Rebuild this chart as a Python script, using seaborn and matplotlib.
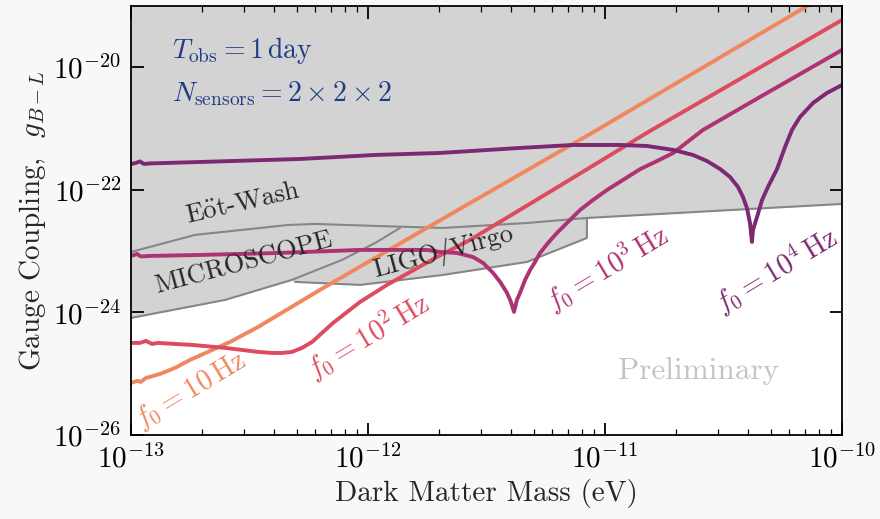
import numpy as np
import pandas as pd
import matplotlib
matplotlib.use("Agg")
import matplotlib.pyplot as plt
import seaborn as sns

# ---------------- data ----------------
# f0 = 10 Hz
mass_10 = [1.00e-13, 1.06e-13, 1.10e-13, 1.157e-13, 1.20e-13, 1.326e-13, 1.534e-13,
           1.774e-13, 2.113e-13, 2.617e-13, 3.44e-13, 6.27e-13, 1.656e-12,
           9.25e-12, 8.0e-11]
g_10 = [7.08e-26, 7.63e-26, 7.35e-26, 8.54e-26, 8.87e-26, 9.92e-26, 1.245e-25,
        1.68e-25, 2.27e-25, 3.30e-25, 5.80e-25, 2.33e-24, 2.06e-23,
        9.48e-22, 1.3e-19]

# f0 = 10^2 Hz
mass_100 = [1.00e-13, 1.09e-13, 1.157e-13, 1.226e-13, 1.30e-13, 1.534e-13, 1.81e-13,
            2.49e-13, 3.44e-13, 3.94e-13, 4.34e-13, 4.78e-13, 5.27e-13, 5.81e-13,
            6.40e-13, 7.12e-13, 9.25e-13, 1.203e-12, 1.955e-12, 2.69e-12,
            6.03e-12, 1.548e-11, 1.00e-10]
g_100 = [3.18e-25, 3.18e-25, 3.43e-25, 3.06e-25, 3.18e-25, 3.06e-25, 2.95e-25,
         2.64e-25, 2.27e-25, 2.18e-25, 2.18e-25, 2.27e-25, 2.64e-25, 3.30e-25,
         4.63e-25, 6.74e-25, 1.48e-24, 2.81e-24, 8.04e-24, 1.52e-23,
         9.96e-23, 9.14e-22, 5.91e-20]

# f0 = 10^3 Hz
mass_1k = [1.00e-13, 1.06e-13, 1.10e-13, 1.20e-13, 1.955e-13, 4.25e-13, 9.25e-13,
           1.774e-12, 2.01e-12, 2.37e-12, 2.77e-12, 3.06e-12, 3.37e-12, 3.61e-12,
           3.86e-12, 4.01e-12, 4.13e-12, 4.25e-12, 4.38e-12, 4.60e-12, 4.83e-12,
           5.07e-12, 5.32e-12, 5.75e-12, 6.27e-12, 6.98e-12, 7.85e-12, 8.90e-12,
           1.02e-11, 1.19e-11, 1.41e-11, 1.66e-11, 1.94e-11, 2.59e-11, 4.51e-11,
           1.00e-10]
g_1k = [8.35e-24, 9.0e-24, 8.2e-24, 8.35e-24, 8.67e-24, 9.35e-24, 1.047e-23,
        1.047e-23, 9.70e-24, 9.35e-24, 8.04e-24, 6.42e-24, 4.41e-24, 3.145e-24,
        2.08e-24, 1.483e-24, 1.02e-24, 1.60e-24, 2.08e-24, 3.39e-24, 4.93e-24,
        6.67e-24, 9.35e-24, 1.36e-23, 1.98e-23, 2.995e-23, 4.70e-23, 6.84e-23,
        9.96e-23, 1.45e-22, 2.19e-22, 2.96e-22, 4.00e-22, 9.49e-22, 3.28e-21,
        1.915e-20]

# f0 = 10^4 Hz
mass_10k = [1.00e-13, 1.05e-13, 1.09e-13, 1.135e-13, 1.20e-13, 1.955e-13, 5.17e-13,
            1.07e-12, 2.01e-12, 4.38e-12, 7.33e-12, 1.157e-11, 1.504e-11, 1.94e-11,
            2.35e-11, 2.69e-11, 3.06e-11, 3.37e-11, 3.64e-11, 3.82e-11, 3.97e-11,
            4.09e-11, 4.17e-11, 4.21e-11, 4.38e-11, 4.60e-11, 4.87e-11, 5.32e-11,
            5.75e-11, 6.15e-11, 6.65e-11, 7.55e-11, 8.64e-11, 1.00e-10]
g_10k = [2.645e-22, 2.75e-22, 2.91e-22, 2.645e-22, 2.70e-22, 2.85e-22, 3.19e-22,
         3.71e-22, 4.00e-22, 4.83e-22, 5.40e-22, 5.40e-22, 5.20e-22, 4.48e-22,
         3.71e-22, 2.96e-22, 2.19e-22, 1.62e-22, 1.115e-22, 7.66e-23, 5.07e-23,
         2.88e-23, 1.413e-23, 2.22e-23, 3.61e-23, 6.84e-23, 1.115e-22, 2.19e-22,
         5.01e-22, 9.49e-22, 1.546e-21, 2.62e-21, 3.81e-21, 5.14e-21]

# excluded regions (lower edges)
excl_mass = [1.00e-13, 2.495e-13, 4.77e-13, 4.92e-13, 9.25e-13, 2.07e-12,
             4.69e-12, 8.39e-12, 8.39e-12, 1.00e-10]
excl_g = [8.13e-25, 1.60e-24, 3.39e-24, 3.15e-24, 2.81e-24, 4.09e-24,
          6.67e-24, 1.64e-23, 3.48e-23, 5.89e-23]

eotwash_mass = [1.00e-13, 1.862e-13, 4.59e-13, 5.97e-13, 1.072e-12, 2.07e-12,
                4.69e-12, 8.39e-12, 1.00e-10]
eotwash_g = [9.7e-24, 1.84e-23, 2.67e-23, 2.78e-23, 2.58e-23, 2.39e-23,
             2.88e-23, 3.48e-23, 5.89e-23]

microscope_mass = [1.00e-13, 2.495e-13, 4.77e-13, 7.76e-13, 1.072e-12, 1.365e-12]
microscope_g = [8.13e-25, 1.60e-24, 3.39e-24, 7.18e-24, 1.36e-23, 2.39e-23]

ligo_mass = [4.92e-13, 9.25e-13, 2.07e-12, 4.69e-12, 8.39e-12, 8.39e-12]
ligo_g = [3.15e-24, 2.81e-24, 4.09e-24, 6.67e-24, 1.64e-23, 3.48e-23]

x_ticks = [1e-13, 1e-12, 1e-11, 1e-10]
x_tick_labels = [r'$10^{-13}$', r'$10^{-12}$', r'$10^{-11}$', r'$10^{-10}$']
y_ticks = [1e-26, 1e-24, 1e-22, 1e-20]
y_tick_labels = [r'$10^{-26}$', r'$10^{-24}$', r'$10^{-22}$', r'$10^{-20}$']

curve_labels = [r'$f_0 = 10\,\mathrm{Hz}$', r'$f_0 = 10^2\,\mathrm{Hz}$',
                r'$f_0 = 10^3\,\mathrm{Hz}$', r'$f_0 = 10^4\,\mathrm{Hz}$']
colors = ['#f0875f', '#dc4b5f', '#af3273', '#7d2873']

# ---------------- style ----------------
sns.set_theme(style="ticks")
plt.rcParams.update({
    'font.family': ['cmr10', 'DejaVu Serif'],
    'mathtext.fontset': 'cm',
    'axes.unicode_minus': False,
    'axes.formatter.use_mathtext': True,
})

fig = plt.figure(figsize=(8.8, 5.19), dpi=100)
fig.patch.set_facecolor('#f8f8f8')
ax = fig.add_axes([131/880, 1 - 435/519, 711/880, 429/519])
ax.set_facecolor('white')
ax.set_axisbelow(False)
ax.set_xscale('log')
ax.set_yscale('log')
ax.set_xlim(1e-13, 1e-10)
ax.set_ylim(1e-26, 1e-19)

# excluded region
ax.fill_between(excl_mass, excl_g, 1e-19, color='#d3d3d3', lw=0, zorder=1)
for mx, gy in [(eotwash_mass, eotwash_g), (microscope_mass, microscope_g),
               (ligo_mass, ligo_g)]:
    ax.plot(mx, gy, color='#868686', lw=1.5, zorder=2)

# sensitivity curves
frames = []
for name, mx, gy in [('10', mass_10, g_10), ('100', mass_100, g_100),
                     ('1k', mass_1k, g_1k), ('10k', mass_10k, g_10k)]:
    frames.append(pd.DataFrame({'mass': mx, 'g': gy, 'f0': name}))
df = pd.concat(frames, ignore_index=True)
sns.lineplot(data=df, x='mass', y='g', hue='f0', palette=colors,
             estimator=None, sort=False, lw=2.8, legend=False, ax=ax, zorder=3)

# ticks
ax.set_xticks(x_ticks)
ax.set_xticklabels(x_tick_labels)
ax.set_yticks(y_ticks)
ax.set_yticklabels(y_tick_labels)
ax.xaxis.set_minor_locator(matplotlib.ticker.LogLocator(base=10, subs=np.arange(2, 10)))
ax.yaxis.set_minor_locator(matplotlib.ticker.NullLocator())
ax.tick_params(which='both', direction='in', top=True, right=True, colors='black',
               labelsize=21)
ax.tick_params(which='major', length=9, width=1.3, pad=7)
ax.tick_params(which='minor', length=4.5, width=0.9)
for s in ax.spines.values():
    s.set_color('black')
    s.set_linewidth(1.3)
    s.set_zorder(5)

ax.set_xlabel('Dark Matter Mass (eV)', fontsize=21, labelpad=4)
ax.set_ylabel(r'Gauge Coupling,  $g_{B-L}$', fontsize=21, labelpad=4)

# annotations
def fx(px):
    return (px - 131) / 711

def fy(py):
    return (435 - py) / 429

blue = '#1f3b87'
ax.text(fx(172), fy(58), r'$T_{\rm obs} = 1\,{\rm day}$', color=blue, fontsize=20,
        transform=ax.transAxes, ha='left', va='baseline', zorder=6)
ax.text(fx(172), fy(101), r'$N_{\rm sensors} = 2\times 2\times 2$', color=blue,
        fontsize=20, transform=ax.transAxes, ha='left', va='baseline', zorder=6)

ax.text(fx(243), fy(203), r'E$\ddot{\rm o}$t-Wash', fontsize=19, rotation=13,
        transform=ax.transAxes, ha='center', va='center', zorder=6)
ax.text(fx(244), fy(263), 'MICROSCOPE', fontsize=19, rotation=15,
        transform=ax.transAxes, ha='center', va='center', zorder=6)
ax.text(fx(443), fy(252), 'LIGO/Virgo', fontsize=19, rotation=15,
        transform=ax.transAxes, ha='center', va='center', zorder=6)

label_pos = [(191, 390), (368, 336), (607, 268), (776, 270)]
for lab, (px, py), c in zip(curve_labels, label_pos, colors):
    ax.text(fx(px), fy(py), lab, color=c, fontsize=20.5, rotation=31,
            transform=ax.transAxes, ha='center', va='center', zorder=6)

ax.text(fx(699), fy(371), 'Preliminary', color='#c4c4c4', fontsize=22.5,
        transform=ax.transAxes, ha='center', va='center', zorder=6)

fig.savefig('out.png', dpi=100, facecolor=fig.get_facecolor())
